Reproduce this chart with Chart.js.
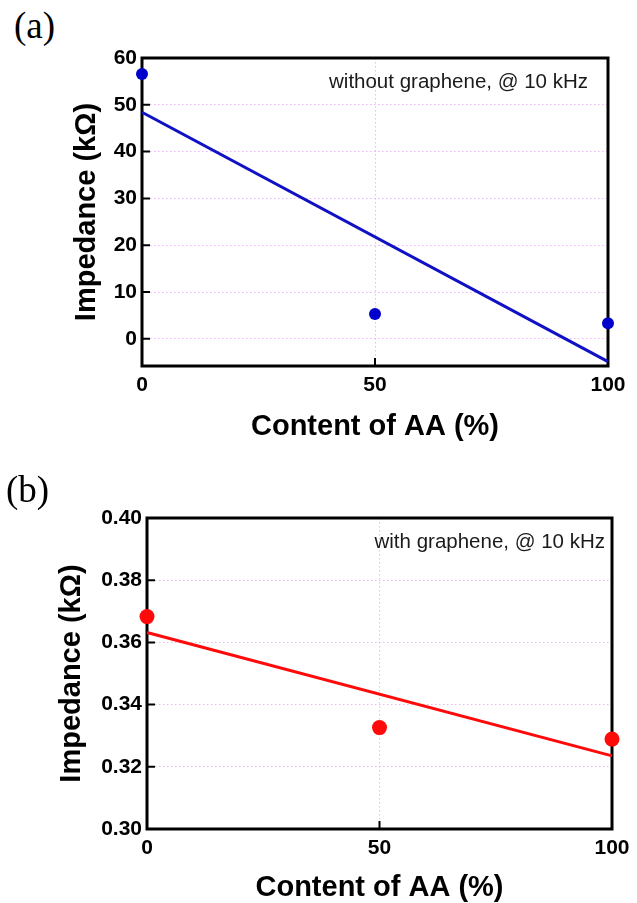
<!DOCTYPE html>
<html><head><meta charset="utf-8">
<script src="https://cdn.jsdelivr.net/npm/chart.js@4"></script>
<style>
body{margin:0;background:#fff;width:637px;height:903px;overflow:hidden;position:relative}
canvas{position:absolute;left:0}
.lbl{position:absolute;font-family:"Liberation Serif","Times New Roman",serif;font-size:37px;line-height:1;color:#000}
</style></head><body>
<div class="lbl" style="left:14px;top:7px">(a)</div>
<canvas id="ca" width="637" height="451" style="top:0"></canvas>
<canvas id="cb" width="637" height="452" style="top:451px"></canvas>
<div class="lbl" style="left:6px;top:471px">(b)</div>
<script>
// ---- data ----
const aaContent = [0, 50, 100];
const impedanceA = [56.6, 5.3, 3.35];     // without graphene
const fitA = [48.4, -4.85];               // linear fit at x = 0 and x = 100
const impedanceB = [0.3683, 0.3326, 0.3289]; // with graphene
const fitB = [0.3632, 0.3235];
const xTicks = [0, 50, 100];
const yTicksA = [0, 10, 20, 30, 40, 50, 60];
const yTicksB = [0.30, 0.32, 0.34, 0.36, 0.38, 0.40];
const noteA = 'without graphene, @ 10 kHz';
const noteB = 'with graphene, @ 10 kHz';
const xTitle = 'Content of AA (%)';
const yTitle = 'Impedance (k\u03A9)';

const FONT = '"Liberation Sans", Arial, Helvetica, sans-serif';
const gridColor = 'rgba(228,165,245,0.8)';

const framePlugin = {
  id: 'frame',
  beforeDatasetsDraw(chart, args, opts) {
    const {ctx, chartArea: a, scales: {x, y}} = chart;
    ctx.save();
    ctx.strokeStyle = '#000';
    ctx.lineWidth = 2;
    ctx.beginPath();
    y.ticks.forEach(t => { const py = y.getPixelForValue(t.value); ctx.moveTo(a.left, py); ctx.lineTo(a.left + 8, py); });
    x.ticks.forEach(t => { const px = x.getPixelForValue(t.value); ctx.moveTo(px, a.bottom); ctx.lineTo(px, a.bottom - 8); });
    ctx.stroke();
    ctx.lineWidth = 3;
    ctx.strokeRect(a.left, a.top, a.right - a.left, a.bottom - a.top);
    ctx.font = '20.5px ' + FONT;
    ctx.fillStyle = '#1a1a1a';
    ctx.textAlign = 'right';
    ctx.textBaseline = 'middle';
    ctx.fillText(opts.text, a.right - opts.dx, a.top + opts.dy);
    ctx.restore();
  }
};

function makeChart(id, cfg) {
  const pts = aaContent.map((v, i) => ({x: v, y: cfg.values[i]}));
  const fit = [{x: aaContent[0], y: cfg.fit[0]}, {x: aaContent[aaContent.length - 1], y: cfg.fit[1]}];
  return new Chart(document.getElementById(id), {
    type: 'scatter',
    data: {
      datasets: [
        {data: pts, backgroundColor: cfg.color, borderWidth: 0, pointRadius: cfg.radius, pointHoverRadius: cfg.radius, clip: false, order: 0},
        {data: fit, showLine: true, borderColor: cfg.lineColor, borderWidth: 3, pointRadius: 0, fill: false, clip: false, order: 1}
      ]
    },
    options: {
      responsive: false,
      animation: false,
      events: [],
      layout: {padding: {left: 0, top: cfg.padTop, right: cfg.padRight, bottom: 0}},
      plugins: {legend: {display: false}, tooltip: {enabled: false}, frame: {text: cfg.note, dx: cfg.noteDx, dy: 24}},
      scales: {
        x: {
          type: 'linear', min: 0, max: 100,
          afterBuildTicks: s => { s.ticks = xTicks.map(v => ({value: v})); },
          afterFit: s => { s.height = cfg.xHeight; },
          grid: {color: gridColor, lineWidth: 1, drawTicks: false, borderDash: [1.5, 2.5]},
          border: {display: false, dash: [1.5, 2.5]},
          ticks: {color: '#000', font: {family: FONT, size: 21, weight: 'bold'}, padding: 7, maxRotation: 0, callback: v => String(v)},
          title: {display: true, text: xTitle, color: '#000', font: {family: FONT, size: 29, weight: 'bold'}, padding: {top: 0, bottom: cfg.xTitlePad}}
        },
        y: {
          type: 'linear', min: cfg.yMin, max: cfg.yMax,
          afterBuildTicks: s => { s.ticks = cfg.yTicks.map(v => ({value: v})); },
          afterFit: s => { s.width = cfg.yWidth; },
          grid: {color: gridColor, lineWidth: 1, drawTicks: false, borderDash: [1.5, 2.5]},
          border: {display: false, dash: [1.5, 2.5]},
          ticks: {color: '#000', font: {family: FONT, size: 21, weight: 'bold'}, padding: 5, callback: v => cfg.fmt(v)},
          title: {display: true, text: yTitle, color: '#000', font: {family: FONT, size: 29, weight: 'bold'}, padding: {top: cfg.yTitlePad, bottom: 0}}
        }
      }
    },
    plugins: [framePlugin]
  });
}

makeChart('ca', {
  values: impedanceA, fit: fitA, color: '#0000cc', lineColor: '#1010c4', radius: 6,
  yMin: -5.8, yMax: 60, yTicks: yTicksA, fmt: v => String(v),
  padTop: 58, padRight: 29, yWidth: 142, xHeight: 85,
  xTitlePad: 6.6, yTitlePad: 70, note: noteA, noteDx: 20
});
makeChart('cb', {
  values: impedanceB, fit: fitB, color: '#ff0a0a', lineColor: '#ff0a0a', radius: 7.5,
  yMin: 0.30, yMax: 0.40, yTicks: yTicksB, fmt: v => v.toFixed(2),
  padTop: 67, padRight: 25, yWidth: 147, xHeight: 74,
  xTitlePad: -2.4, yTitlePad: 55, note: noteB, noteDx: 7
});
</script>
</body></html>
